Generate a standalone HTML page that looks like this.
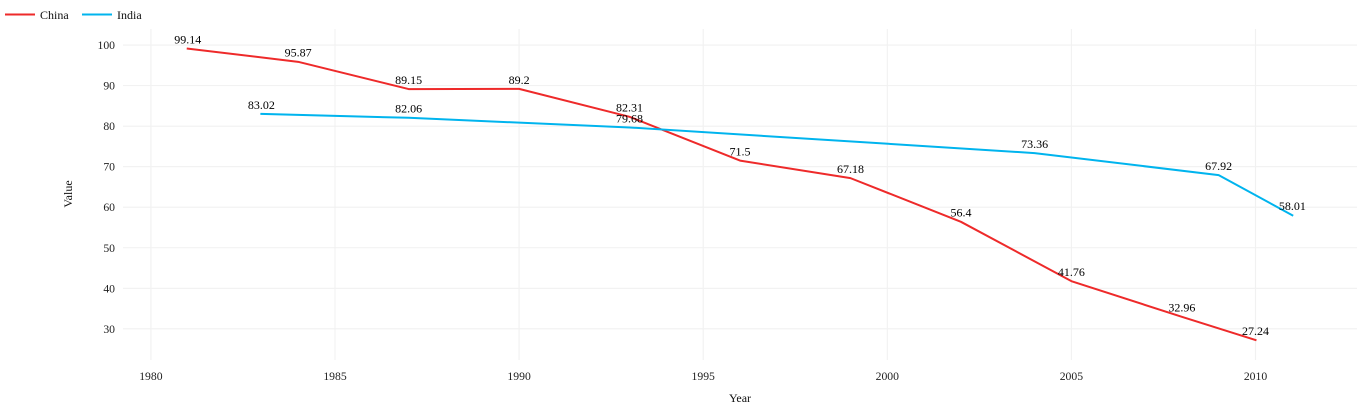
<!DOCTYPE html>
<html>
<head>
<meta charset="utf-8">
<title>China and India line chart</title>
<style>
html,body{margin:0;padding:0;background:#fff;width:1357px;height:404px;overflow:hidden}
svg{display:block}
text{font-family:"Liberation Serif",serif;fill:#1a1a1a}
.tick{font-size:11.7px;fill:#1f1f1f}
.val{font-size:12px;fill:#000}
.ttl{font-size:12px;fill:#111}
</style>
</head>
<body>
<svg id="chart" width="1357" height="404" viewBox="0 0 1357 404" xmlns="http://www.w3.org/2000/svg"></svg>
<script>
const chinaYears = [1981, 1984, 1987, 1990, 1993, 1996, 1999, 2002, 2005, 2008, 2010];
const chinaValues = [99.14, 95.87, 89.15, 89.2, 82.31, 71.5, 67.18, 56.4, 41.76, 32.96, 27.24];
const indiaYears = [1983, 1987, 1993, 2004, 2009, 2011];
const indiaValues = [83.02, 82.06, 79.68, 73.36, 67.92, 58.01];
const xTicks = [1980, 1985, 1990, 1995, 2000, 2005, 2010];
const yTicks = [30, 40, 50, 60, 70, 80, 90, 100];

const svg = document.getElementById('chart');
const NS = 'http://www.w3.org/2000/svg';
const xScale = function (year) { return 150.9 + (year - 1980) * 36.82; };
const yScale = function (value) { return 45.1 + (100 - value) * 4.053; };
const panel = { left: 123, right: 1357, top: 29, bottom: 360 };

function make(tag, props, text) {
  const el = document.createElementNS(NS, tag);
  for (const k in props) el.setAttribute(k, props[k]);
  if (text !== undefined) el.textContent = text;
  svg.appendChild(el);
  return el;
}

yTicks.forEach(function (t) {
  const line = make('line', { x1: panel.left, x2: panel.right, y1: yScale(t), y2: yScale(t), stroke: '#f1f1f1', 'stroke-width': 1.1 });
  
  
  const label = make('text', { x: 115, y: yScale(t) + 4, 'text-anchor': 'end', class: 'tick' }, t);
  
  
});

xTicks.forEach(function (t) {
  const line = make('line', { x1: xScale(t), x2: xScale(t), y1: panel.top, y2: panel.bottom, stroke: '#f1f1f1', 'stroke-width': 1.1 });
  
  
  const label = make('text', { x: xScale(t), y: 380, 'text-anchor': 'middle', class: 'tick' }, t);
  
  
});

function drawSeries(name, years, values, color) {
  const pts = years.map(function (y, i) { return xScale(y).toFixed(2) + ',' + yScale(values[i]).toFixed(2); }).join(' ');
  const line = make('polyline', { points: pts, fill: 'none', stroke: color, 'stroke-width': 2, 'stroke-linejoin': 'round', 'stroke-linecap': 'square' });
  
  
  years.forEach(function (y, i) {
    const label = make('text', { x: xScale(y), y: yScale(values[i]) - 5.1, 'text-anchor': 'middle', class: 'val' }, values[i]);
    
    
  });
}
drawSeries('china', chinaYears, chinaValues, '#ee2a2a');
drawSeries('india', indiaYears, indiaValues, '#00b4ee');

const xTitle = make('text', { x: 740, y: 402, 'text-anchor': 'middle', class: 'ttl' }, 'Year');



const yTitle = make('text', { x: 0, y: 0, 'text-anchor': 'middle', class: 'ttl', transform: 'translate(72,194) rotate(-90)' }, 'Value');



const chinaKey = make('line', { x1: 5, x2: 35, y1: 14.5, y2: 14.5, stroke: '#ee2a2a', 'stroke-width': 2 });


const chinaLabel = make('text', { x: 40, y: 19, class: 'ttl' }, 'China');


const indiaKey = make('line', { x1: 82, x2: 112, y1: 14.5, y2: 14.5, stroke: '#00b4ee', 'stroke-width': 2 });


const indiaLabel = make('text', { x: 117, y: 19, class: 'ttl' }, 'India');


</script>
</body>
</html>
